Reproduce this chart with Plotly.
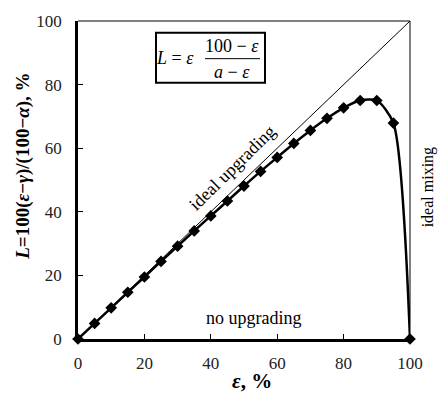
import plotly.graph_objects as go

eps = [0, 5, 10, 15, 20, 25, 30, 35, 40, 45, 50, 55, 60, 65, 70, 75, 80, 85, 90, 95, 100]
L_vals = [0, 4.9, 9.8, 14.7, 19.5, 24.4, 29.2, 34.0, 38.7, 43.4, 48.1, 52.7, 57.1, 61.5, 65.6, 69.4, 72.7, 75.0, 75.0, 67.9, 0]
diag_x = [0, 100]
diag_y = [0, 100]
tick_vals = [0, 20, 40, 60, 80, 100]
tick_text = ["0", "20", "40", "60", "80", "100"]

FONT = "Liberation Serif, Times New Roman, serif"

fig = go.Figure()
fig.add_trace(go.Scatter(x=diag_x, y=diag_y, mode="lines",
                         line=dict(color="black", width=1), showlegend=False,
                         hoverinfo="skip"))
fig.add_trace(go.Scatter(x=eps, y=L_vals, mode="lines+markers",
                         line=dict(color="black", width=2.5, shape="spline", smoothing=0.7),
                         marker=dict(symbol="diamond", size=9, color="black"),
                         showlegend=False, cliponaxis=False))

axis_common = dict(range=[0, 100], tickvals=tick_vals, ticktext=tick_text,
                   ticks="inside", ticklen=5, tickwidth=1, tickcolor="black",
                   showline=True, linecolor="black", linewidth=2.5,
                   showgrid=False, zeroline=False,
                   tickfont=dict(family=FONT, size=17, color="#222"))
fig.update_xaxes(**axis_common, ticklabelstandoff=7)
fig.update_yaxes(**axis_common, ticklabelstandoff=10)

def px(x):
    return (x - 78) / 332.0

def py(y):
    return (339 - y) / 325.0

shapes = [
    dict(type="line", xref="paper", yref="paper", x0=0, x1=1, y0=1, y1=1,
         line=dict(color="black", width=1)),
    dict(type="line", xref="paper", yref="paper", x0=1, x1=1, y0=0, y1=1,
         line=dict(color="black", width=1)),
    dict(type="rect", xref="paper", yref="paper", x0=px(156), x1=px(265),
         y0=py(77), y1=py(26), line=dict(color="black", width=2),
         fillcolor="white"),
    dict(type="line", xref="paper", yref="paper", x0=px(205), x1=px(260),
         y0=py(52.5), y1=py(52.5), line=dict(color="black", width=1)),
]

annotations = [
    dict(text="<i>L</i> = <i>ε</i>", x=px(175), y=py(52), xref="paper", yref="paper",
         showarrow=False, xanchor="center", yanchor="middle",
         font=dict(family=FONT, size=18, color="black")),
    dict(text="100 − <i>ε</i>", x=px(232), y=py(40), xref="paper", yref="paper",
         showarrow=False, xanchor="center", yanchor="middle",
         font=dict(family=FONT, size=18, color="black")),
    dict(text="<i>a</i> − <i>ε</i>", x=px(232), y=py(66), xref="paper", yref="paper",
         showarrow=False, xanchor="center", yanchor="middle",
         font=dict(family=FONT, size=18, color="black")),
    dict(text="ideal upgrading", x=px(232), y=py(164), xref="paper", yref="paper",
         showarrow=False, xanchor="center", yanchor="middle", textangle=-44.4,
         font=dict(family=FONT, size=18, color="black")),
    dict(text="no upgrading", x=px(253.5), y=py(318), xref="paper", yref="paper",
         showarrow=False, xanchor="center", yanchor="middle",
         font=dict(family=FONT, size=18, color="black")),
    dict(text="ideal mixing", x=px(428), y=py(184), xref="paper", yref="paper",
         showarrow=False, xanchor="center", yanchor="middle", textangle=-90,
         borderpad=0,
         font=dict(family=FONT, size=16, color="black")),
    dict(text="<b><i>L</i>=100(<i>ε</i>−<i>γ</i>)/(100−<i>α</i>), %</b>",
         x=px(23), y=py(163), xref="paper", yref="paper",
         showarrow=False, xanchor="center", yanchor="middle", textangle=-90,
         font=dict(family=FONT, size=19, color="black")),
    dict(text="<b><i>ε</i>, %</b>", x=px(252), y=py(382), xref="paper", yref="paper",
         showarrow=False, xanchor="center", yanchor="middle",
         font=dict(family=FONT, size=21, color="black")),
]

fig.update_layout(width=440, height=407,
                  margin=dict(l=78, r=30, t=14, b=68),
                  paper_bgcolor="white", plot_bgcolor="white",
                  shapes=shapes, annotations=annotations, showlegend=False)

fig.write_html("out.html")
